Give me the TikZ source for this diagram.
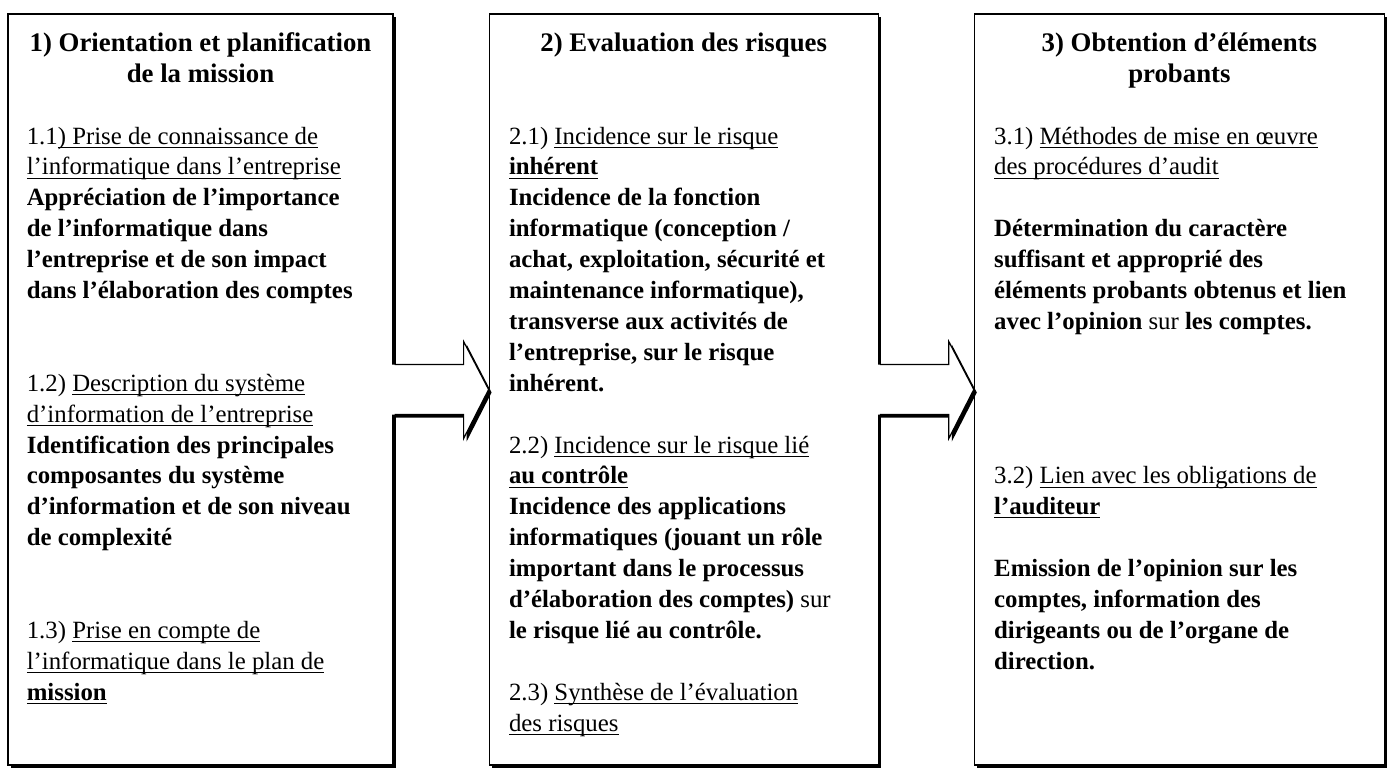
\documentclass[tikz,border=0pt]{standalone}
\usepackage{fontspec}
\setmainfont{Liberation Serif}
\usetikzlibrary{positioning,calc,shadows}
\newcommand\uln[1]{\setbox0\hbox{#1}\rlap{\rule[-1.8pt]{\wd0}{0.5pt}}\box0}

\begin{document}
\begin{tikzpicture}[
  x=0.5pt,y=-0.5pt,
  node distance=47.5pt,
  panel/.style={draw,line width=0.6pt,fill=white,minimum height=375.5pt,inner sep=0pt,
    drop shadow={shadow xshift=1.5pt,shadow yshift=-1.5pt,fill=black,opacity=1}},
  title/.style={anchor=north,align=center,inner sep=0pt,
    font=\fontsize{13.4}{15.45}\selectfont\bfseries},
  body/.style={anchor=north west,align=left,inner sep=0pt,
    font=\fontsize{12.4}{15.45}\selectfont\bfseries},
  blockfill/.style={fill=white,
    drop shadow={shadow xshift=1.5pt,shadow yshift=-1.5pt,fill=black,opacity=1}},
  blockline/.style={draw,line width=0.6pt,line join=miter}
]
\useasboundingbox (0,0) rectangle (1387,767);

% the three stages
\node[panel,minimum width=192.5pt] (orient) at (200.5,389.5) {};
\node[panel,minimum width=194.5pt,right=of orient] (risk) {};
\node[panel,minimum width=205pt,right=of risk] (proof) {};

% block arrows between stages
\fill[blockfill] ($(orient.east)+(-2,-25)$) -- ($(risk.west)+(-25,-25)$) -- ($(risk.west)+(-25,-48)$)
  -- (risk.west) -- ($(risk.west)+(-25,49)$) -- ($(risk.west)+(-25,25)$) -- ($(orient.east)+(-2,25)$) -- cycle;
\draw[blockline] ($(orient.east)+(1,-25)$) -- ($(risk.west)+(-25,-25)$) -- ($(risk.west)+(-25,-48)$)
  -- (risk.west) -- ($(risk.west)+(-25,49)$) -- ($(risk.west)+(-25,25)$) -- ($(orient.east)+(1,25)$);
\fill[blockfill] ($(risk.east)+(-2,-25)$) -- ($(proof.west)+(-25,-25)$) -- ($(proof.west)+(-25,-48)$)
  -- (proof.west) -- ($(proof.west)+(-25,49)$) -- ($(proof.west)+(-25,25)$) -- ($(risk.east)+(-2,25)$) -- cycle;
\draw[blockline] ($(risk.east)+(1,-25)$) -- ($(proof.west)+(-25,-25)$) -- ($(proof.west)+(-25,-48)$)
  -- (proof.west) -- ($(proof.west)+(-25,49)$) -- ($(proof.west)+(-25,25)$) -- ($(risk.east)+(1,25)$);

% titles
\node[title] (orient-t) at ($(orient.north)+(0,19)$) {1) Orientation et planification\\de la mission};
\node[title] (risk-t) at ($(risk.north)+(0,19)$) {2) Evaluation des risques};
\node[title] (proof-t) at ($(proof.north)+(0,19)$) {3) Obtention d'éléments\\probants};

% contents
\node[body] (orient-b) at ($(orient.north west)+(19,113)$) {%
  \textmd{1.1\uln{) Prise de connaissance de}}\\
  \textmd{\uln{l'informatique dans l'entreprise}}\\
  Appréciation de l'importance\\
  de l'informatique dans\\
  l'entreprise et de son impact\\
  dans l'élaboration des comptes\\[30.9pt]
  \textmd{1.2) \uln{Description du système}}\\
  \textmd{\uln{d'information de l'entreprise}}\\
  Identification des principales\\
  composantes du système\\
  d'information et de son niveau\\
  de complexité\\[30.9pt]
  \textmd{1.3) \uln{Prise en compte de}}\\
  \textmd{\uln{l'informatique dans le plan de}}\\
  \uln{mission}};
\node[body] (risk-b) at ($(risk.north west)+(20,113)$) {%
  \textmd{2.1) \uln{Incidence sur le risque}}\\
  \uln{inhérent}\\
  Incidence de la fonction\\
  informatique (conception /\\
  achat, exploitation, sécurité et\\
  maintenance informatique),\\
  transverse aux activités de\\
  l'entreprise, sur le risque\\
  inhérent.\\[15.45pt]
  \textmd{2.2) \uln{Incidence sur le risque lié}}\\
  \uln{au contrôle}\\
  Incidence des applications\\
  informatiques (jouant un rôle\\
  important dans le processus\\
  d'élaboration des comptes) \textmd{sur}\\
  le risque lié au contrôle.\\[15.45pt]
  \textmd{2.3) \uln{Synthèse de l'évaluation}}\\
  \textmd{\uln{des risques}}};
\node[body] (proof-b) at ($(proof.north west)+(20,113)$) {%
  \textmd{3.1) \uln{Méthodes de mise en œuvre}}\\
  \textmd{\uln{des procédures d'audit}}\\[15.45pt]
  Détermination du caractère\\
  suffisant et approprié des\\
  éléments probants obtenus et lien\\
  avec l'opinion \textmd{sur} les comptes.\\[61.8pt]
  \textmd{3.2) \uln{Lien avec les obligations de}}\\
  \uln{l'auditeur}\\[15.45pt]
  Emission de l'opinion sur les\\
  comptes, information des\\
  dirigeants ou de l'organe de\\
  direction.};
\end{tikzpicture}
\end{document}
